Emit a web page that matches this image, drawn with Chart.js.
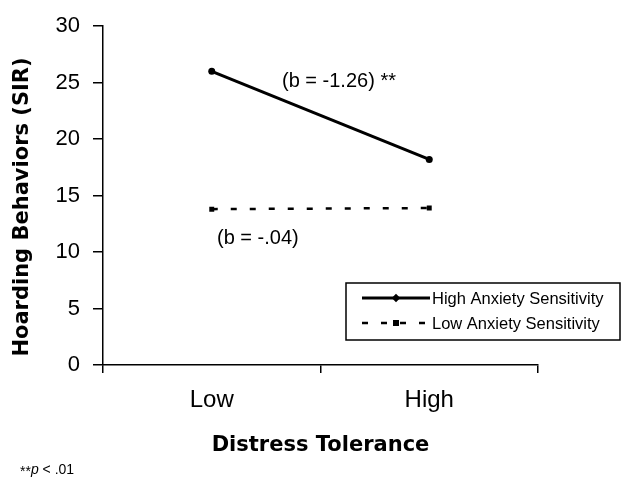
<!DOCTYPE html>
<html>
<head>
<meta charset="utf-8">
<script src="https://cdn.jsdelivr.net/npm/chart.js@4"></script>
<style>
  html, body { margin: 0; padding: 0; background: #fff; }
  #wrap { width: 622px; height: 477px; }
</style>
</head>
<body>
<div id="wrap"><canvas id="chart" width="622" height="477"></canvas></div>
<script>
// Data
const categories = ['Low', 'High'];
const highAS = [26.0, 18.2];
const lowAS = [13.8, 13.9];
const seriesLabels = ['High Anxiety Sensitivity', 'Low Anxiety Sensitivity'];
const yTicks = [0, 5, 10, 15, 20, 25, 30];
const notes = ['(b = -1.26) **', '(b = -.04)'];

// Text overlays: y title, slope notes, footnote, boxed legend
const overlay = {
  id: 'overlay',
  afterDraw(chart) {
    const ctx = chart.ctx;
    const x = chart.scales.x;
    const y = chart.scales.y;
    ctx.save();
    ctx.fillStyle = '#000';

    // y axis title
    ctx.save();
    ctx.translate(23, 207);
    ctx.rotate(-Math.PI / 2);
    ctx.font = 'bold 21px "DejaVu Sans"';
    ctx.textAlign = 'center';
    ctx.textBaseline = 'middle';
    ctx.fillText('Hoarding Behaviors (SIR)', 0, 0);
    ctx.restore();

    // slope notes
    ctx.font = '20px "Liberation Sans"';
    ctx.textAlign = 'left';
    ctx.textBaseline = 'middle';
    ctx.fillText(notes[0], x.getPixelForValue(0.323), y.getPixelForValue(25.1));
    ctx.fillText(notes[1], x.getPixelForValue(0.024), y.getPixelForValue(11.2));

    // footnote
    ctx.font = '14px "Liberation Sans"';
    ctx.fillText('**', 20, 472);
    let fx = 20 + ctx.measureText('**').width;
    ctx.font = 'italic 14px "Liberation Sans"';
    ctx.fillText('p', fx, 470);
    fx += ctx.measureText('p').width;
    ctx.font = '14px "Liberation Sans"';
    ctx.fillText(' < .01', fx, 470);

    // legend box
    ctx.lineWidth = 1.5;
    ctx.strokeStyle = '#000';
    ctx.strokeRect(346, 283, 274, 57);
    const rows = [298, 323];
    chart.data.datasets.forEach((ds, i) => {
      const ly = rows[i];
      ctx.save();
      ctx.lineWidth = ds.borderWidth;
      ctx.setLineDash(ds.borderDash || []);
      ctx.beginPath();
      ctx.moveTo(362, ly);
      ctx.lineTo(430, ly);
      ctx.stroke();
      ctx.restore();
      ctx.save();
      ctx.translate(396, ly);
      if (i === 0) ctx.rotate(Math.PI / 4);
      const r = 3;
      ctx.fillRect(-r, -r, r * 2, r * 2);
      ctx.restore();
      ctx.font = '16.5px "Liberation Sans"';
      ctx.textAlign = 'left';
      ctx.textBaseline = 'middle';
      ctx.fillText(ds.label, 432, ly + 1);
    });
    ctx.restore();
  }
};

new Chart(document.getElementById('chart').getContext('2d'), {
  type: 'line',
  data: {
    labels: categories,
    datasets: [
      {
        label: seriesLabels[0],
        data: highAS,
        borderColor: '#000',
        backgroundColor: '#000',
        borderWidth: 3,
        pointStyle: 'circle',
        pointRadius: 3.5,
        pointBorderWidth: 0,
        tension: 0
      },
      {
        label: seriesLabels[1],
        data: lowAS,
        borderColor: '#000',
        backgroundColor: '#000',
        borderWidth: 2.5,
        borderDash: [6, 13],
        pointStyle: 'rect',
        pointRadius: 3.5,
        pointBorderWidth: 0,
        tension: 0
      }
    ]
  },
  options: {
    responsive: false,
    animation: false,
    layout: { padding: { left: 0, top: 23, right: 84, bottom: 0 } },
    plugins: {
      legend: { display: false },
      tooltip: { enabled: false }
    },
    scales: {
      x: {
        offset: true,
        afterFit: s => { s.height = 112; },
        grid: {
          offset: true,
          drawOnChartArea: false,
          drawTicks: true,
          tickLength: 8,
          color: '#000',
          lineWidth: 1.5
        },
        border: { color: '#000', width: 1.5 },
        ticks: {
          color: '#000',
          padding: 13,
          font: { family: 'Liberation Sans', size: 24 }
        },
        title: {
          display: true,
          text: 'Distress Tolerance',
          color: '#000',
          padding: { top: 0, bottom: 19 },
          font: { family: 'DejaVu Sans', size: 21, weight: 'bold' }
        }
      },
      y: {
        min: 0,
        max: 30,
        afterFit: s => { s.width = 103; },
        afterBuildTicks: s => { s.ticks = yTicks.map(v => ({ value: v })); },
        grid: {
          drawOnChartArea: false,
          drawTicks: true,
          tickLength: 10,
          color: '#000',
          lineWidth: 1.5
        },
        border: { color: '#000', width: 1.5 },
        ticks: {
          color: '#000',
          padding: 13,
          font: { family: 'Liberation Sans', size: 22 }
        }
      }
    }
  },
  plugins: [overlay]
});
</script>
</body>
</html>
